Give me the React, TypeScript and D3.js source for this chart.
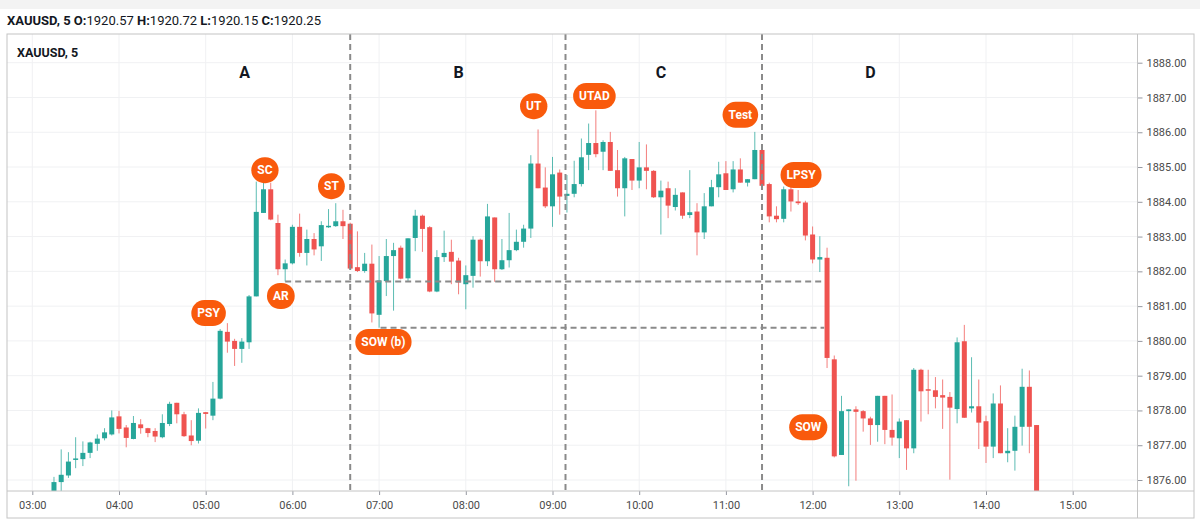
import * as d3 from "d3";
import { useRef, useEffect, useLayoutEffect, useState } from "react";

// XAUUSD 5-minute bars, first bar at 03:15
const firstBar = "03:15";
const barMinutes = 5;

const opens = [
  1875.6, 1875.94, 1876.13, 1876.6, 1876.6, 1876.78, 1877.04, 1877.2, 1877.31, 1877.83,
  1877.51, 1877.18, 1877.6, 1877.49, 1877.41, 1877.23, 1877.61, 1878.22, 1877.89, 1877.28,
  1877.13, 1877.95, 1877.85, 1878.34, 1880.26, 1880.0, 1879.77, 1879.96, 1881.28, 1883.68,
  1884.36, 1883.39, 1882.06, 1882.23, 1883.28, 1882.53, 1882.93, 1882.72, 1883.28, 1883.3,
  1883.44, 1883.37, 1882.12, 1882.01, 1882.22, 1880.75, 1881.72, 1882.44, 1882.68, 1881.8,
  1882.96, 1883.6, 1883.27, 1881.42, 1882.41, 1882.56, 1882.31, 1881.63, 1881.87, 1882.91,
  1882.29, 1883.55, 1882.06, 1882.32, 1882.61, 1882.85, 1883.23, 1885.1, 1884.41, 1883.87,
  1884.84, 1884.17, 1884.23, 1884.51, 1885.35, 1885.69, 1885.44, 1885.72, 1884.91, 1884.39,
  1885.23, 1884.61, 1884.99, 1884.89, 1884.13, 1884.39, 1883.85, 1884.27, 1883.62, 1883.72,
  1883.12, 1883.87, 1884.42, 1884.82, 1884.36, 1884.93, 1884.55, 1884.65, 1885.49, 1884.51,
  1883.6, 1883.51, 1884.36, 1884.01, 1883.98, 1883.06, 1882.34, 1882.39, 1879.47, 1876.72,
  1877.98, 1878.03, 1877.98, 1877.77, 1877.58, 1878.42, 1877.44, 1877.2, 1877.72, 1876.91,
  1879.17, 1878.61, 1878.58, 1878.44, 1878.39, 1878.04, 1879.99, 1878.06, 1878.12, 1877.69,
  1876.96, 1878.2, 1876.77, 1876.84, 1877.53, 1878.68, 1877.58,
];
const highs = [
  1876.09, 1876.88, 1876.8, 1877.23, 1877.11, 1877.1, 1877.31, 1877.49, 1878.0, 1877.99,
  1877.58, 1877.84, 1877.75, 1877.5, 1877.49, 1877.89, 1878.25, 1878.22, 1877.96, 1877.72,
  1878.06, 1877.95, 1878.82, 1880.34, 1880.51, 1880.06, 1880.08, 1881.32, 1884.58, 1884.55,
  1884.55, 1883.63, 1882.34, 1883.34, 1883.66, 1883.2, 1883.1, 1883.44, 1883.79, 1883.96,
  1883.77, 1883.4, 1883.15, 1882.53, 1882.77, 1882.44, 1882.93, 1882.82, 1882.74, 1882.95,
  1883.77, 1883.63, 1883.3, 1882.61, 1883.17, 1882.91, 1882.39, 1882.17, 1883.01, 1882.94,
  1883.94, 1883.55, 1882.93, 1883.68, 1883.2, 1883.34, 1885.34, 1886.08, 1884.99, 1885.29,
  1884.93, 1884.77, 1885.18, 1885.82, 1886.25, 1886.63, 1885.77, 1886.01, 1885.49, 1885.29,
  1885.23, 1885.72, 1885.65, 1884.91, 1884.61, 1884.58, 1884.39, 1884.27, 1884.91, 1883.96,
  1884.25, 1884.63, 1885.15, 1885.17, 1885.17, 1885.25, 1884.65, 1886.01, 1885.52, 1884.55,
  1883.87, 1884.44, 1884.44, 1884.34, 1884.03, 1883.29, 1883.01, 1882.68, 1879.58, 1878.42,
  1878.03, 1878.12, 1878.01, 1877.82, 1878.42, 1878.42, 1878.46, 1877.77, 1877.72, 1879.22,
  1879.2, 1879.17, 1878.96, 1878.89, 1878.53, 1880.1, 1880.46, 1879.53, 1878.89, 1877.85,
  1878.49, 1878.72, 1877.49, 1877.85, 1879.2, 1879.15, 1877.58,
];
const lows = [
  1875.5, 1875.55, 1876.06, 1876.34, 1876.4, 1876.63, 1876.84, 1877.14, 1877.28, 1877.34,
  1876.94, 1877.17, 1877.33, 1877.23, 1877.09, 1877.2, 1877.55, 1877.63, 1877.24, 1877.0,
  1877.05, 1877.48, 1877.72, 1878.32, 1879.66, 1879.28, 1879.37, 1879.77, 1881.28, 1883.68,
  1883.47, 1881.89, 1881.71, 1882.2, 1882.42, 1882.17, 1882.46, 1882.3, 1883.25, 1883.28,
  1882.93, 1882.05, 1881.98, 1881.96, 1880.53, 1880.38, 1881.29, 1880.87, 1881.77, 1881.72,
  1882.58, 1882.56, 1881.4, 1881.4, 1882.27, 1881.63, 1881.34, 1880.91, 1881.53, 1881.85,
  1882.15, 1881.7, 1882.04, 1882.11, 1882.58, 1882.68, 1882.96, 1884.39, 1883.82, 1883.28,
  1883.63, 1883.69, 1884.13, 1884.44, 1884.91, 1885.28, 1884.91, 1884.89, 1884.15, 1883.58,
  1884.34, 1884.39, 1884.36, 1884.11, 1883.06, 1883.53, 1883.75, 1883.51, 1883.53, 1882.46,
  1882.93, 1883.87, 1884.13, 1884.34, 1884.27, 1884.55, 1884.44, 1884.65, 1884.4, 1883.41,
  1883.41, 1883.41, 1883.72, 1883.91, 1882.89, 1882.23, 1881.98, 1879.22, 1876.65, 1876.72,
  1875.82, 1875.98, 1877.39, 1877.01, 1877.1, 1877.03, 1876.99, 1876.63, 1876.29, 1876.77,
  1877.68, 1877.89, 1878.06, 1877.47, 1876.01, 1877.63, 1877.79, 1877.94, 1876.89, 1876.49,
  1876.63, 1876.77, 1876.51, 1876.27, 1876.99, 1876.77, 1875.4,
];
const closes = [
  1875.94, 1876.15, 1876.53, 1876.62, 1876.78, 1877.08, 1877.19, 1877.37, 1877.8, 1877.47,
  1877.21, 1877.64, 1877.49, 1877.35, 1877.25, 1877.64, 1878.19, 1877.89, 1877.26, 1877.12,
  1877.93, 1877.9, 1878.34, 1880.29, 1879.98, 1879.77, 1879.98, 1881.28, 1883.71, 1884.36,
  1883.49, 1882.06, 1882.23, 1883.28, 1882.53, 1882.93, 1882.63, 1883.33, 1883.31, 1883.44,
  1883.3, 1882.08, 1882.01, 1882.22, 1880.79, 1881.74, 1882.44, 1882.61, 1881.79, 1882.95,
  1883.6, 1883.22, 1881.42, 1882.41, 1882.53, 1882.28, 1881.68, 1881.89, 1882.91, 1882.29,
  1883.58, 1882.06, 1882.32, 1882.61, 1882.85, 1883.23, 1885.1, 1884.39, 1883.87, 1884.79,
  1884.15, 1884.23, 1884.51, 1885.28, 1885.69, 1885.37, 1885.72, 1884.89, 1884.39, 1885.25,
  1884.61, 1884.99, 1884.89, 1884.13, 1884.32, 1883.89, 1884.2, 1883.6, 1883.7, 1883.12,
  1883.87, 1884.42, 1884.79, 1884.34, 1884.93, 1884.55, 1884.65, 1885.49, 1884.46, 1883.58,
  1883.5, 1884.36, 1884.01, 1883.96, 1883.03, 1882.34, 1882.41, 1879.51, 1876.68, 1877.98,
  1878.03, 1877.96, 1877.77, 1877.58, 1878.42, 1877.44, 1877.22, 1877.68, 1876.91, 1879.17,
  1878.55, 1878.57, 1878.39, 1878.37, 1878.08, 1879.96, 1877.79, 1878.12, 1877.65, 1876.96,
  1878.2, 1876.77, 1876.84, 1877.53, 1878.68, 1877.53, 1875.5,
];

const priceTicks = [1876, 1877, 1878, 1879, 1880, 1881, 1882, 1883, 1884, 1885, 1886, 1887, 1888];
const timeTicks = ["03:00", "04:00", "05:00", "06:00", "07:00", "08:00", "09:00", "10:00", "11:00", "12:00", "13:00", "14:00", "15:00"];

// Wyckoff phases and events
const phaseNames = ["A", "B", "C", "D"];
const phaseTimes = ["05:27", "07:55", "10:15", "12:40"];
const phaseDividers = ["06:40", "09:09", "11:25"];

const levelPrices = [1881.71, 1880.38];
const levelStarts = ["05:55", "07:01"];
const levelEnds = ["12:08", "12:08"];

const eventNames = ["PSY", "SC", "AR", "ST", "SOW (b)", "UT", "UTAD", "Test", "LPSY", "SOW"];
const eventTimes = ["05:02", "05:41", "05:52", "06:27", "07:03", "08:47", "09:29", "11:10", "11:52", "11:57"];
const eventPrices = [1880.8, 1884.91, 1881.29, 1884.45, 1879.97, 1886.75, 1887.04, 1886.5, 1884.77, 1877.52];

const W = 1200;
const H = 529;
const frame = { left: 7, top: 34, right: 1194, bottom: 518 };
const plotRight = 1137.5;
const plotBottom = 491;

const up = "#26a69a";
const down = "#ef5350";
const orange = "#f95a0c";
const ink = "#131722";
const font = "Roboto, 'Open Sans', sans-serif";

const toMin = (s: string) => {
  const [h, m] = s.split(":").map(Number);
  return h * 60 + m;
};

const x = d3.scaleLinear().domain([toMin("03:00"), toMin("15:00")]).range([32.3, 1072.7]);
const y = d3.scaleLinear().domain([1876, 1888]).range([480, 62.7]);

const bars = opens.map((o, i) => ({
  t: toMin(firstBar) + i * barMinutes,
  o,
  h: highs[i],
  l: lows[i],
  c: closes[i],
}));

const Tag = ({ cx, cy, text }: { cx: number; cy: number; text: string }) => {
  const ref = useRef<SVGTextElement | null>(null);
  const [w, setW] = useState(text.length * 8 + 12);
  useLayoutEffect(() => {
    if (ref.current) setW(Math.max(26, ref.current.getComputedTextLength() + 12));
  }, [text]);
  return (
    <g transform={`translate(${cx},${cy})`}>
      <rect x={-w / 2} y={-13} width={w} height={26} rx={13} fill={orange} />
      <text
        ref={ref}
        textAnchor="middle"
        dy="0.36em"
        fill="#fff"
        fontSize={12}
        fontWeight={700}
        fontFamily={font}
      >
        {text}
      </text>
    </g>
  );
};

export default function App() {
  const gx = useRef<SVGGElement | null>(null);
  const gy = useRef<SVGGElement | null>(null);

  useEffect(() => {
    if (gy.current) {
      d3.select(gy.current)
        .call(d3.axisRight(y).tickValues(priceTicks).tickSize(5).tickPadding(4).tickFormat(d3.format(".2f")))
        .call((g) => g.select(".domain").remove())
        .call((g) => g.selectAll(".tick line").attr("stroke", "#9598a1"))
        .call((g) =>
          g.selectAll(".tick text").attr("fill", "#4a4a4a").attr("font-size", 11).attr("font-family", font)
        );
    }
    if (gx.current) {
      d3.select(gx.current)
        .call(
          d3
            .axisBottom(x)
            .tickValues(timeTicks.map(toMin))
            .tickSize(4)
            .tickPadding(6)
            .tickFormat((d, i) => timeTicks[i])
        )
        .call((g) => g.select(".domain").remove())
        .call((g) => g.selectAll(".tick line").attr("stroke", "#9598a1"))
        .call((g) =>
          g.selectAll(".tick text").attr("fill", "#4a4a4a").attr("font-size", 11).attr("font-family", font)
        );
    }
  }, []);

  const bodyW = 5;

  return (
    <svg width={W} height={H} style={{ position: "absolute", left: 0, top: 0, background: "#fff" }}>
      <defs>
        <clipPath id="plot">
          <rect x={frame.left} y={frame.top} width={plotRight - frame.left} height={plotBottom - frame.top} />
        </clipPath>
      </defs>

      {/* top strip and header */}
      <rect x={0} y={0} width={W} height={9} fill="#f3f3f3" />
      <text x={7} y={25} fontSize={13} fontFamily={font} fill={ink}>
        <tspan fontWeight={700}>XAUUSD, 5 O:</tspan>
        <tspan>1920.57 </tspan>
        <tspan fontWeight={700}>H:</tspan>
        <tspan>1920.72 </tspan>
        <tspan fontWeight={700}>L:</tspan>
        <tspan>1920.15 </tspan>
        <tspan fontWeight={700}>C:</tspan>
        <tspan>1920.25</tspan>
      </text>

      {/* grid */}
      <g clipPath="url(#plot)" stroke="#f0f1f3" strokeWidth={1}>
        {timeTicks.map((t) => (
          <line key={t} x1={x(toMin(t))} x2={x(toMin(t))} y1={frame.top} y2={plotBottom} />
        ))}
        {priceTicks.map((p) => (
          <line key={p} x1={frame.left} x2={plotRight} y1={y(p)} y2={y(p)} />
        ))}
      </g>

      {/* candles */}
      <g clipPath="url(#plot)">
        {bars.map((b, i) => {
          const col = b.c >= b.o ? up : down;
          const cx = x(b.t);
          const top = y(Math.max(b.o, b.c));
          const bot = y(Math.min(b.o, b.c));
          return (
            <g key={i}>
              <line x1={cx} x2={cx} y1={y(b.h)} y2={y(b.l)} stroke={col} strokeOpacity={0.75} strokeWidth={1} />
              <rect x={cx - bodyW / 2} y={top} width={bodyW} height={Math.max(1.5, bot - top)} fill={col} />
            </g>
          );
        })}
      </g>

      {/* phase dividers and levels */}
      <g clipPath="url(#plot)" stroke="#8a8a8a" strokeWidth={2} strokeDasharray="6,4" fill="none">
        {phaseDividers.map((t) => (
          <line key={t} x1={x(toMin(t))} x2={x(toMin(t))} y1={frame.top} y2={plotBottom} />
        ))}
        {levelPrices.map((p, i) => (
          <line key={p} x1={x(toMin(levelStarts[i]))} x2={x(toMin(levelEnds[i]))} y1={y(p)} y2={y(p)} />
        ))}
      </g>

      {/* phase letters */}
      {phaseNames.map((n, i) => (
        <text
          key={n}
          x={x(toMin(phaseTimes[i]))}
          y={y(1887.73)}
          dy="0.36em"
          textAnchor="middle"
          fontSize={16}
          fontWeight={700}
          fontFamily={font}
          fill={ink}
        >
          {n}
        </text>
      ))}

      {/* event tags */}
      {eventNames.map((n, i) => (
        <Tag key={n} cx={x(toMin(eventTimes[i]))} cy={y(eventPrices[i])} text={n} />
      ))}

      <text x={17} y={57} fontSize={12.5} fontWeight={700} fontFamily={font} fill={ink}>
        XAUUSD, 5
      </text>

      {/* axes */}
      <g ref={gy} transform={`translate(${plotRight},0)`} />
      <g ref={gx} transform={`translate(0,${plotBottom})`} />

      {/* frame */}
      <g stroke="#c4c4c4" strokeWidth={1} fill="none">
        <rect x={frame.left} y={frame.top} width={frame.right - frame.left} height={frame.bottom - frame.top} />
        <line x1={plotRight} x2={plotRight} y1={frame.top} y2={frame.bottom} />
        <line x1={frame.left} x2={frame.right} y1={plotBottom} y2={plotBottom} />
      </g>
    </svg>
  );
}
